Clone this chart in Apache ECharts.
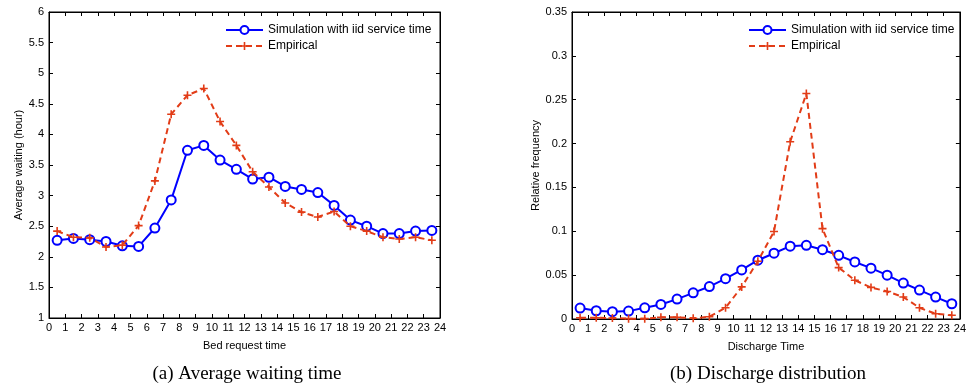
<!DOCTYPE html>
<html>
<head>
<meta charset="utf-8">
<script src="https://cdn.jsdelivr.net/npm/echarts@6/dist/echarts.min.js"></script>
<style>
  html, body { margin: 0; padding: 0; background: #fff; }
  #main { width: 969px; height: 390px; }
</style>
</head>
<body>
<div id="main"></div>
<script>
// hour bins (centres)
var hours = [0.5, 1.5, 2.5, 3.5, 4.5, 5.5, 6.5, 7.5, 8.5, 9.5, 10.5, 11.5,
             12.5, 13.5, 14.5, 15.5, 16.5, 17.5, 18.5, 19.5, 20.5, 21.5, 22.5, 23.5];

// (a) average waiting (hour)
var waitSim = [2.27, 2.30, 2.28, 2.25, 2.18, 2.17, 2.47, 2.93, 3.74, 3.82, 3.58, 3.43,
               3.27, 3.30, 3.15, 3.10, 3.05, 2.84, 2.60, 2.50, 2.38, 2.38, 2.42, 2.43];
var waitEmp = [2.42, 2.32, 2.31, 2.16, 2.19, 2.51, 3.24, 4.33, 4.64, 4.75, 4.21, 3.82,
               3.39, 3.14, 2.88, 2.73, 2.65, 2.74, 2.50, 2.42, 2.32, 2.29, 2.32, 2.27];

// (b) discharge relative frequency
var discSim = [0.0125, 0.0094, 0.0083, 0.009, 0.0128, 0.0166, 0.0227, 0.0298, 0.037, 0.046, 0.056, 0.067,
               0.075, 0.083, 0.084, 0.079, 0.0726, 0.065, 0.058, 0.050, 0.041, 0.033, 0.025, 0.0174];
var discEmp = [0.0015, 0.0015, 0.001, 0.0004, 0.0004, 0.002, 0.002, 0.0008, 0.0026, 0.0128, 0.0366, 0.0658,
               0.0998, 0.202, 0.257, 0.103, 0.0586, 0.0442, 0.036, 0.0314, 0.025, 0.0128, 0.006, 0.0042];

var simName = 'Simulation with iid service time';
var empName = 'Empirical';
var captions = ['(a) Average waiting time', '(b) Discharge distribution'];

var blue = '#0000ff';
var red = '#e23c17';
var plus = 'path://M4,0h2v4h4v2h-4v4h-2v-4h-4v-2h4z';
var font = 'Liberation Sans, Arial, sans-serif';
var serif = 'Liberation Serif, DejaVu Serif, serif';

function pairs(xs, ys) {
    return xs.map(function (x, i) { return [x, ys[i]]; });
}

var myChart = echarts.init(document.getElementById('main'));

function tick() {
    return { show: true, inside: true, length: 4, lineStyle: { color: '#000', width: 1 } };
}

function xAx(idx, name, pos) {
    return {
        type: 'value', gridIndex: idx, min: 0, max: 24, interval: 1,
        position: pos,
        name: pos === 'bottom' ? name : '',
        nameLocation: 'middle', nameGap: 22,
        nameTextStyle: { fontFamily: font, fontSize: 11, color: '#000' },
        axisLine: { show: true, onZero: false, lineStyle: { color: '#000', width: 1 } },
        axisTick: tick(),
        axisLabel: { show: pos === 'bottom', fontFamily: font, fontSize: 11, color: '#000', margin: 4 },
        splitLine: { show: false }
    };
}

function yAx(idx, name, pos, min, max, step, gap) {
    return {
        type: 'value', gridIndex: idx, min: min, max: max, interval: step,
        position: pos,
        name: pos === 'left' ? name : '',
        nameLocation: 'middle', nameGap: gap,
        nameTextStyle: { fontFamily: font, fontSize: 11, color: '#000' },
        axisLine: { show: true, onZero: false, lineStyle: { color: '#000', width: 1 } },
        axisTick: tick(),
        axisLabel: { show: pos === 'left', fontFamily: font, fontSize: 11, color: '#000', margin: 5 },
        splitLine: { show: false }
    };
}

function simSeries(x, y, data) {
    return {
        name: simName, type: 'line', xAxisIndex: x, yAxisIndex: y,
        data: data, symbol: 'emptyCircle', symbolSize: 9,
        itemStyle: { color: blue, borderColor: blue, borderWidth: 2 },
        lineStyle: { color: blue, width: 2 },
        z: 3
    };
}

function empSeries(x, y, data) {
    return {
        name: empName, type: 'line', xAxisIndex: x, yAxisIndex: y,
        data: data, symbol: plus, symbolSize: 8,
        itemStyle: { color: red },
        lineStyle: { color: red, width: 2, type: [6, 4] },
        z: 4
    };
}

function legendAt(left) {
    return {
        orient: 'vertical', left: left, top: 24, padding: 0,
        itemWidth: 37, itemHeight: 10, itemGap: 4,
        data: [simName, empName],
        textStyle: { fontFamily: font, fontSize: 12, color: '#000' }
    };
}

var option = {
    animation: false,
    textStyle: { fontFamily: font },
    title: [
        { text: captions[0], left: 247, top: 365, textAlign: 'center', padding: 0,
          textStyle: { fontFamily: serif, fontWeight: 'normal', fontSize: 19, color: '#000' } },
        { text: captions[1], left: 768, top: 365, textAlign: 'center', padding: 0,
          textStyle: { fontFamily: serif, fontWeight: 'normal', fontSize: 19, color: '#000' } }
    ],
    legend: [legendAt(225), legendAt(748)],
    grid: [
        { left: 49, top: 12, width: 391, height: 306, show: true, borderColor: '#000', borderWidth: 1 },
        { left: 572, top: 12, width: 391, height: 307, show: true, borderColor: '#000', borderWidth: 1 }
    ],
    xAxis: [
        xAx(0, 'Bed request time', 'bottom'),
        xAx(0, '', 'top'),
        xAx(1, 'Discharge Time', 'bottom'),
        xAx(1, '', 'top')
    ],
    yAxis: [
        yAx(0, 'Average waiting (hour)', 'left', 1, 6, 0.5, 25),
        yAx(0, '', 'right', 1, 6, 0.5, 25),
        yAx(1, 'Relative frequency', 'left', 0, 0.35, 0.05, 29),
        yAx(1, '', 'right', 0, 0.35, 0.05, 29)
    ],
    series: [
        simSeries(0, 0, pairs(hours, waitSim)),
        empSeries(0, 0, pairs(hours, waitEmp)),
        simSeries(2, 2, pairs(hours, discSim)),
        empSeries(2, 2, pairs(hours, discEmp))
    ]
};

myChart.setOption(option);
</script>
</body>
</html>
